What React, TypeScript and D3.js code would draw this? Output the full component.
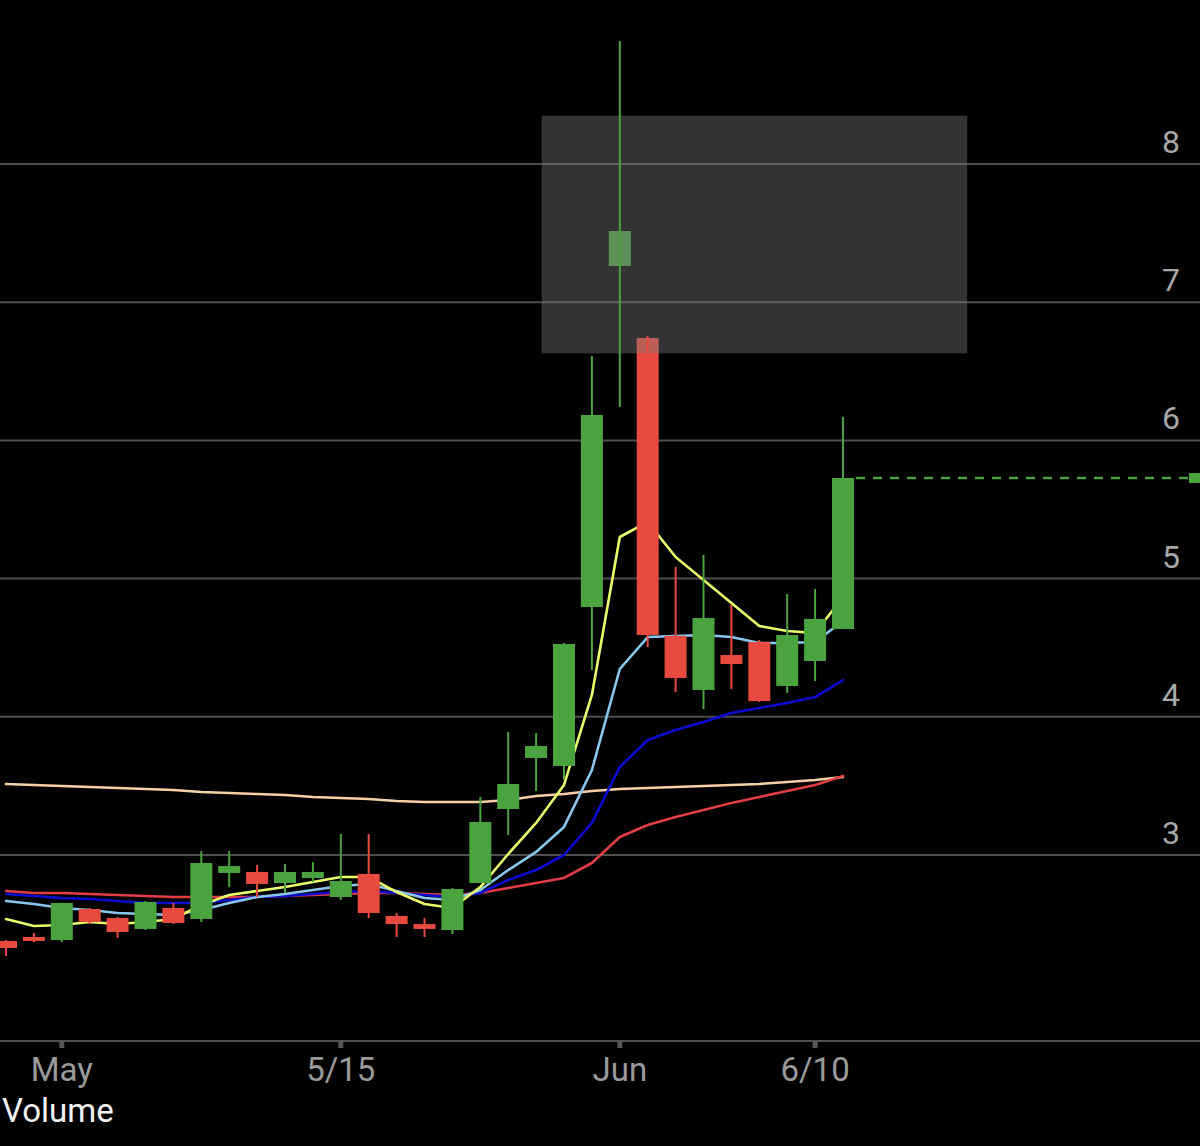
import React, { useEffect } from 'react';
import * as d3 from 'd3';

const dates = [
  '4/29', '4/30', '5/1', '5/4', '5/5', '5/6', '5/7', '5/8', '5/11', '5/12',
  '5/13', '5/14', '5/15', '5/18', '5/19', '5/20', '5/21', '5/22', '5/26', '5/27',
  '5/28', '5/29', '6/1', '6/2', '6/3', '6/4', '6/5', '6/8', '6/9', '6/10', '6/11',
];

const opens = [
  2.378, 2.407, 2.385, 2.609, 2.544, 2.465, 2.617, 2.537, 2.87, 2.877,
  2.797, 2.834, 2.696, 2.863, 2.559, 2.5, 2.457, 2.797, 3.333, 3.702,
  3.644, 4.794, 7.262, 6.741, 4.585, 4.194, 4.447, 4.541, 4.223, 4.404, 4.635,
];
const highs = [
  2.385, 2.436, 2.655, 2.617, 2.551, 2.667, 2.653, 3.029, 3.029, 2.928,
  2.935, 2.949, 3.152, 3.152, 2.58, 2.544, 2.761, 3.42, 3.89, 3.883,
  4.534, 6.611, 8.89, 6.755, 5.084, 5.171, 4.809, 4.556, 4.889, 4.925, 6.169,
];
const lows = [
  2.269, 2.37, 2.37, 2.5, 2.4, 2.457, 2.5, 2.515, 2.768, 2.696,
  2.725, 2.805, 2.674, 2.544, 2.407, 2.407, 2.428, 2.797, 3.145, 3.463,
  3.543, 4.339, 6.242, 4.505, 4.179, 4.056, 4.201, 4.107, 4.172, 4.259, 4.635,
];
const closes = [
  2.327, 2.378, 2.653, 2.515, 2.443, 2.66, 2.508, 2.942, 2.92, 2.79,
  2.877, 2.877, 2.812, 2.58, 2.5, 2.465, 2.754, 3.239, 3.514, 3.789,
  4.527, 6.184, 7.515, 4.592, 4.281, 4.715, 4.382, 4.114, 4.592, 4.708, 5.728,
];

const ma5 = [
  2.537, 2.486, 2.493, 2.515, 2.501, 2.515, 2.537, 2.638, 2.711, 2.74,
  2.768, 2.805, 2.841, 2.841, 2.732, 2.645, 2.616, 2.768, 3.007, 3.232,
  3.507, 4.158, 5.301, 5.41, 5.156, 4.99, 4.823, 4.657, 4.621, 4.606, 4.867,
];
const ma10 = [
  2.667, 2.645, 2.616, 2.602, 2.58, 2.573, 2.566, 2.602, 2.653, 2.696,
  2.718, 2.747, 2.776, 2.79, 2.74, 2.689, 2.674, 2.747, 2.891, 3.022,
  3.203, 3.615, 4.346, 4.577, 4.585, 4.592, 4.577, 4.534, 4.534, 4.541, 4.693,
];
const ma20 = [
  2.718, 2.703, 2.689, 2.682, 2.667, 2.653, 2.653, 2.653, 2.674, 2.696,
  2.703, 2.718, 2.732, 2.74, 2.725, 2.711, 2.696, 2.725, 2.819, 2.891,
  3.0, 3.232, 3.637, 3.832, 3.904, 3.962, 4.027, 4.064, 4.1, 4.143, 4.266,
];
const ma50 = [
  2.74, 2.725, 2.725, 2.718, 2.711, 2.703, 2.696, 2.696, 2.696, 2.696,
  2.703, 2.711, 2.718, 2.725, 2.725, 2.718, 2.711, 2.725, 2.761, 2.797,
  2.834, 2.942, 3.13, 3.217, 3.275, 3.326, 3.376, 3.42, 3.463, 3.507, 3.572,
];
const ma200 = [
  3.514, 3.507, 3.499, 3.492, 3.485, 3.478, 3.47, 3.456, 3.449, 3.441,
  3.434, 3.42, 3.412, 3.405, 3.391, 3.383, 3.383, 3.383, 3.398, 3.427,
  3.441, 3.463, 3.478, 3.485, 3.492, 3.499, 3.507, 3.514, 3.528, 3.543, 3.564,
];

const priceTicks = [3, 4, 5, 6, 7, 8];
const dateTicks = [
  { date: '5/1', label: 'May' },
  { date: '5/15', label: '5/15' },
  { date: '6/1', label: 'Jun' },
  { date: '6/10', label: '6/10' },
];

// highlighted zone (in candle index / price units)
const zone = { from: 19.2, to: 34.45, low: 6.63, high: 8.35 };

const W = 1200;
const H = 1146;
const UP = '#4aa33f';
const DOWN = '#e84a3f';
const FONT = 'Roboto, "Liberation Sans", sans-serif';

const maLines = [
  { values: ma200, color: '#f6d0a4' },
  { values: ma50, color: '#e23c44' },
  { values: ma20, color: '#0b0bd2' },
  { values: ma10, color: '#88c8ee' },
  { values: ma5, color: '#ecff68' },
];

function App() {
  useEffect(() => {
    document.body.style.margin = '0';
    document.body.style.background = '#000';
  }, []);

  const x = d3.scaleLinear().domain([0, dates.length - 1]).range([6, 843]);
  const y = d3.scaleLinear().domain([3, 8]).range([855, 164]);
  const axisY = 1041;
  const bodyW = 22;
  const last = closes.length - 1;

  const line = (vals: number[]) =>
    d3.line<number>()
      .x((_, i) => x(i))
      .y(d => y(d))(vals) as string;

  const colorOf = (i: number) => (closes[i] >= opens[i] ? UP : DOWN);

  return (
    <svg width={W} height={H} style={{ display: 'block', background: '#000' }}>
      <rect width={W} height={H} fill="#000" />

      {priceTicks.map(t => (
        <g key={t}>
          <line x1={0} x2={W} y1={y(t)} y2={y(t)} stroke="#4e4e4e" strokeWidth={2} />
          <text x={1180} y={y(t) - 11} textAnchor="end" fill="#a8a8a8"
            fontSize={32} fontFamily={FONT}>{t}</text>
        </g>
      ))}

      {maLines.map((m, k) => (
        <path key={k} d={line(m.values)} fill="none" stroke={m.color}
          strokeWidth={2.6} strokeLinejoin="round" strokeLinecap="round" />
      ))}

      {dates.map((d, i) => {
        const top = y(Math.max(opens[i], closes[i]));
        const bot = y(Math.min(opens[i], closes[i]));
        return (
          <rect key={d} x={x(i) - bodyW / 2} y={top} width={bodyW}
            height={Math.max(bot - top, 2)} fill={colorOf(i)} />
        );
      })}

      <rect x={x(zone.from)} y={y(zone.high)} width={x(zone.to) - x(zone.from)}
        height={y(zone.low) - y(zone.high)} fill="#7a7a7a" fillOpacity={0.42} />

      {dates.map((d, i) => (
        <line key={d} x1={x(i)} x2={x(i)} y1={y(highs[i])} y2={y(lows[i])}
          stroke={colorOf(i)} strokeWidth={2} />
      ))}

      <line x1={x(last) + bodyW / 2 + 2} x2={1189} y1={y(closes[last])} y2={y(closes[last])}
        stroke={UP} strokeWidth={2.5} strokeDasharray="9 8" />
      <rect x={1189} y={y(closes[last]) - 5} width={11} height={10} fill={UP} />

      <line x1={0} x2={W} y1={axisY} y2={axisY} stroke="#4e4e4e" strokeWidth={2} />
      {dateTicks.map(t => {
        const i = dates.indexOf(t.date);
        return (
          <g key={t.date}>
            <rect x={x(i) - 2.5} y={axisY} width={5} height={7} fill="#555" />
            <text x={x(i)} y={1081} textAnchor="middle" fill="#9a9a9a"
              fontSize={33} fontFamily={FONT}>{t.label}</text>
          </g>
        );
      })}

      <text x={2} y={1122} fill="#f2f2f2" fontSize={33} fontFamily={FONT}>Volume</text>
    </svg>
  );
}

export default App;
